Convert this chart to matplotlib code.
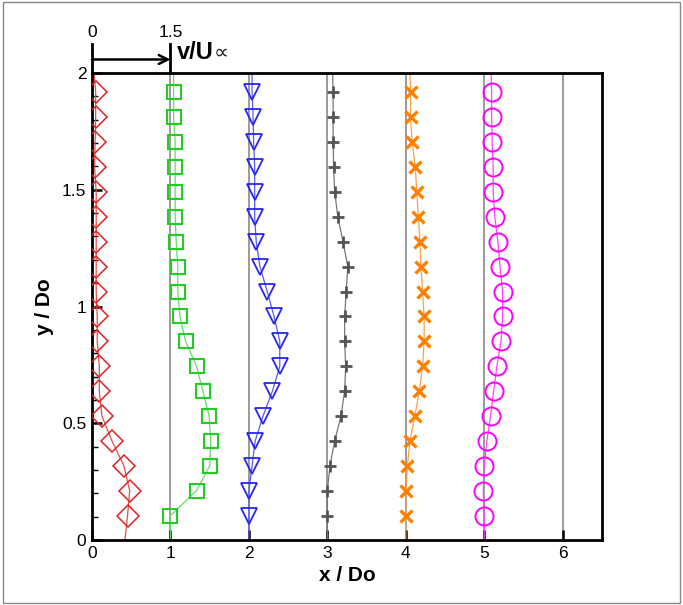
import numpy as np
import matplotlib
matplotlib.use("Agg")
import matplotlib.pyplot as plt
from matplotlib.patches import Rectangle

plt.rcParams['font.family'] = ['Liberation Sans', 'DejaVu Sans']

# measurement heights y/Do
y_pts = [0.105, 0.212, 0.318, 0.425, 0.531, 0.638, 0.744, 0.851, 0.958,
         1.064, 1.171, 1.277, 1.384, 1.490, 1.597, 1.704, 1.810, 1.917]

# station positions x/Do
stations = [0, 1, 2, 3, 4, 5]

# v/Uinf profiles at each station
v_st0 = [0.68, 0.72, 0.61, 0.38, 0.19, 0.14, 0.14, 0.10, 0.10,
         0.08, 0.08, 0.08, 0.08, 0.08, 0.05, 0.06, 0.07, 0.07]
v_st1 = [0.00, 0.50, 0.75, 0.77, 0.74, 0.62, 0.50, 0.29, 0.18,
         0.14, 0.14, 0.11, 0.09, 0.09, 0.09, 0.09, 0.06, 0.06]
v_st2 = [0.00, 0.00, 0.06, 0.12, 0.27, 0.45, 0.59, 0.59, 0.48,
         0.35, 0.21, 0.14, 0.11, 0.11, 0.11, 0.09, 0.08, 0.06]
v_st3 = [0.00, 0.00, 0.05, 0.14, 0.26, 0.33, 0.35, 0.33, 0.33,
         0.36, 0.39, 0.30, 0.20, 0.14, 0.12, 0.11, 0.11, 0.11]
v_st4 = [0.00, 0.00, 0.03, 0.08, 0.17, 0.26, 0.32, 0.35, 0.35,
         0.32, 0.29, 0.27, 0.24, 0.21, 0.18, 0.12, 0.09, 0.09]
v_st5 = [0.00, -0.02, 0.00, 0.05, 0.12, 0.18, 0.24, 0.32, 0.35,
         0.35, 0.30, 0.26, 0.20, 0.17, 0.17, 0.15, 0.14, 0.14]
profiles = [v_st0, v_st1, v_st2, v_st3, v_st4, v_st5]

# line values at the wall (y=0) and the top (y=2)
v_bottom = [0.63, 0.00, 0.00, 0.00, 0.00, 0.00]
v_top = [0.04, 0.06, 0.06, 0.10, 0.08, 0.13]

scale = 1.5  # v/Uinf per unit of x/Do

colors = ['#dd2222', '#22cc22', '#2626ee', '#555555', '#ff8000', '#ff00ff']
markers = ['D', 's', 'v', '+', 'x', 'o']
msizes = [11, 10.5, 12, 9, 8, 13]
mews = [1.1, 1.5, 1.3, 2.0, 2.4, 1.4]
linecolors = ['#e84a4a', '#66dd66', '#5a5aee', '#777777', '#ffa040', '#ff44ff']

fig = plt.figure(figsize=(6.83, 6.05), dpi=100)
ax = fig.add_axes([0.1347, 0.1074, 0.7467, 0.7719])

# reference lines at each station
for xs in stations[1:] + [6]:
    ax.plot([xs, xs], [0, 2], color='#808080', lw=1.1, zorder=1)

for i in range(len(stations)):
    xs = stations[i]
    v = np.array(profiles[i])
    xp = xs + v / scale
    x_line = np.concatenate(([xs + v_bottom[i] / scale], xp, [xs + v_top[i] / scale]))
    y_line = np.concatenate(([0.0], y_pts, [2.0]))
    ax.plot(x_line, y_line, color=linecolors[i], lw=0.9, zorder=2)
    ax.plot(xp, y_pts, linestyle='none', marker=markers[i], ms=msizes[i],
            mfc='none', mec=colors[i], mew=mews[i], zorder=3)

ax.set_xlim(0, 6.5)
ax.set_ylim(0, 2)
ax.set_xticks([0, 1, 2, 3, 4, 5, 6])
ax.set_yticks([0, 0.5, 1, 1.5, 2])
ax.set_yticklabels(['0', '0.5', '1', '1.5', '2'])
ax.set_yticks(np.arange(0, 2.01, 0.1), minor=True)
ax.tick_params(axis='both', which='major', direction='in', length=7, width=1.8,
               labelsize=12.5, pad=4)
ax.tick_params(axis='y', which='minor', direction='in', length=4, width=1.0)
for s in ax.spines.values():
    s.set_linewidth(2.0)

ax.set_xlabel('x / Do', fontsize=15, fontweight='bold', labelpad=4)
ax.set_ylabel('y / Do', fontsize=15, fontweight='bold', labelpad=6)

# velocity scale bar above the frame
ax.plot([0, 0], [2, 2.125], color='black', lw=2, clip_on=False)
ax.plot([1, 1], [2, 2.125], color='black', lw=2, clip_on=False)
ax.annotate('', xy=(1, 2.058), xytext=(0, 2.058),
            arrowprops=dict(arrowstyle='->', color='black', lw=1.8,
                            mutation_scale=16, shrinkA=0, shrinkB=0),
            annotation_clip=False)
ax.text(0, 2.14, '0', ha='center', va='bottom', fontsize=12.5)
ax.text(1, 2.14, '1.5', ha='center', va='bottom', fontsize=12.5)
vlab = ax.text(1.08, 2.09, 'v/U', ha='left', va='center', fontsize=17, fontweight='bold')
ax.annotate('\u221d', xy=(1.0, 0.45), xycoords=vlab, ha='left', va='center',
            fontsize=15, color='#222222')

# thin frame around the figure
fig.patches.append(Rectangle((0.004, 0.004), 0.992, 0.992, transform=fig.transFigure,
                             fill=False, edgecolor='#888888', lw=1.0))

fig.savefig('out.png', dpi=100)
